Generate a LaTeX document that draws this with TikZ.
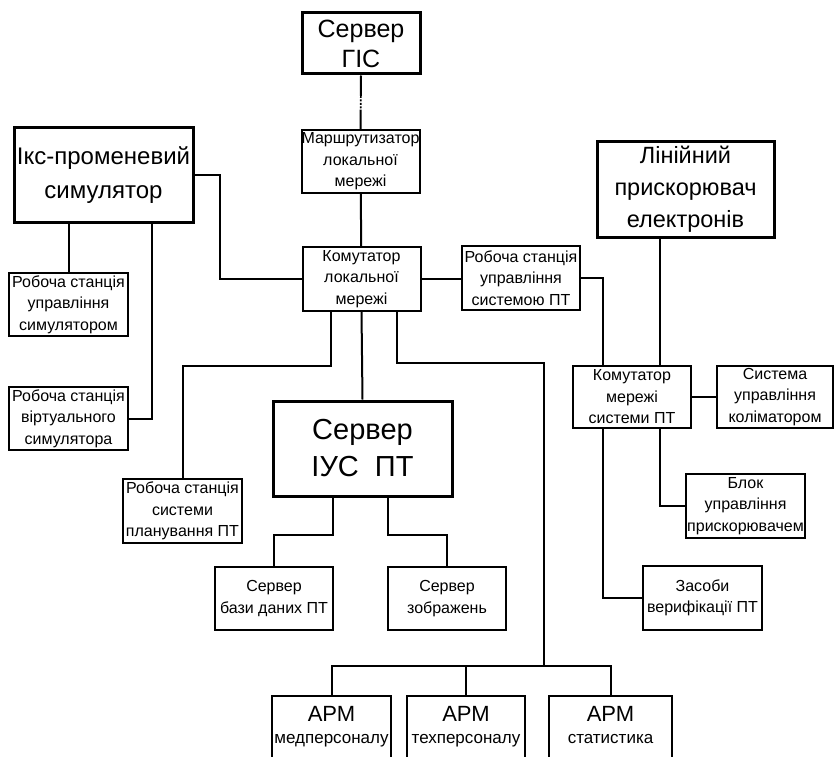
\documentclass[tikz,border=0pt]{standalone}
\usepackage{fontspec}
\setmainfont{Liberation Sans}
\usepackage{tikz}
\usetikzlibrary{positioning, calc}
\newcommand{\fntS}{\fontsize{16}{21.5}\selectfont}
\newcommand{\fntL}{\fontsize{24}{30}\selectfont}
\tikzstyle{vbox} = [rectangle, draw, align=center, inner sep=0pt, line width=2pt, minimum width=118pt, minimum height=63pt, font=\fntS]
\tikzstyle{vbig} = [vbox, line width=3pt, minimum width=179pt, minimum height=95pt, font=\fntL]
\tikzstyle{apm} = [vbox, minimum height=64pt, font=\fontsize{17}{22}\selectfont]
\tikzstyle{link} = [line width=2pt]

\begin{document}
\begin{tikzpicture}[x=1pt, y=-1pt]
\useasboundingbox (0,0) rectangle (835,757);

\node(GIS)[vbig, minimum width=118pt, minimum height=61pt, font=\fontsize{25}{30}\selectfont] at (361,43.5) {Сервер\\ГІС};
\node(ROUT)[vbox] at (360.5,161.5) {Маршрутизатор\\локальної\\мережі};
\node(KOM)[vbox, minimum height=64pt] at (361.5,279) {Комутатор\\локальної\\мережі};
\node(WS3)[vbox, minimum height=64pt] at (521,278) {Робоча станція\\управління\\системою ПТ};

\node(SIM)[vbig, font=\fontsize{24}{34}\selectfont] at (103.5,175) {Ікс-променевий\\симулятор};
\node(WS1)[vbox, minimum width=119pt] at (68.5,304.5) {Робоча станція\\управління\\симулятором};
\node(WS2)[vbox, minimum width=119pt] at (68.5,418.5) {Робоча станція\\віртуального\\симулятора};

\node(LIN)[vbig, minimum width=177pt, font=\fontsize{23.5}{32}\selectfont] at (685.5,189.5) {Лінійний\\прискорювач\\електронів};
\node(KPT)[vbox, minimum height=62pt] at (632,397) {Комутатор\\мережі\\системи ПТ};
\node(KOL)[vbox, minimum width=116pt, minimum height=62pt] at (775,397) {Система\\управління\\коліматором};
\node(BLK)[vbox, minimum width=119pt, minimum height=64pt] at (745.5,506) {Блок\\управління\\прискорювачем};
\node(ZAS)[vbox, minimum width=119pt, minimum height=64pt] at (702.5,598) {Засоби\\верифікації ПТ};

\node(WS4)[vbox, minimum width=119pt, minimum height=64pt] at (182.5,511) {Робоча станція\\системи\\планування ПТ};
\node(IUS)[vbig, font=\fontsize{29}{37}\selectfont] at (362.5,448.5) {Сервер\\ІУС~~ПТ};
\node(DB)[vbox] at (274,598.5) {Сервер\\бази даних ПТ};
\node(IMG)[vbox] at (447,598.5) {Сервер\\зображень};

\node(APM1)[apm, minimum width=119pt] at (331.5,728) {{\fontsize{22}{26}\selectfont АРМ}\\медперсоналу\strut};
\node(APM2)[apm] at (466,728) {{\fontsize{22}{26}\selectfont АРМ}\\техперсоналу\strut};
\node(APM3)[apm, minimum width=123pt] at (610.5,728) {{\fontsize{22}{26}\selectfont АРМ}\\статистика\strut};
\coordinate (bus) at (544,666);

% server GIS - router
\path (GIS.south) -- (ROUT.north) coordinate[pos=0.38] (d1) coordinate[pos=0.64] (d2);
\draw [link] (GIS.south) -- (d1);
\draw [line width=1.6pt, dash pattern=on 2pt off 1.5pt] (d1) -- (d2);
\draw [link] (d2) -- (ROUT.north);
\draw [link] (ROUT) -- (KOM);

% simulator
\draw [link] (SIM.east) -- ++(25,0) |- (KOM.west);
\draw [link] (WS1.north) -- (WS1.north |- SIM.south);
\draw [link] (SIM.south) ++(48.5,0) |- (WS2.east);

% system PT
\draw [link] (KOM.east) -- (KOM.east -| WS3.west);
\draw [link] (KPT.north) ++(-29,0) |- (WS3.east);
\coordinate (k1) at ($(KPT.north)+(28,0)$);
\draw [link] (k1) -- (k1 |- LIN.south);
\draw [link] (KPT.east) -- (KOL.west);
\draw [link] (KPT.south) ++(28,0) |- (BLK.west);
\draw [link] (KPT.south) ++(-29,0) |- (ZAS.west);

% server IUS
\draw [link] (KOM.south) ++(-31,0) -- ++(0,54) -| (WS4.north);
\draw [link] (KOM.south) -- (IUS.north);
\draw [link] (IUS.south) ++(-29.5,0) -- ++(0,37) -| (DB.north);
\draw [link] (IUS.south) ++(25.5,0) -- ++(0,37) -| (IMG.north);

% APM
\draw [link] (KOM.south) ++(35.5,0) -- ++(0,51) -| (bus);
\draw [link] (APM1.north) |- (bus) -| (APM3.north);
\draw [link] (APM2.north) -- (APM2.north |- bus);

\end{tikzpicture}
\end{document}
